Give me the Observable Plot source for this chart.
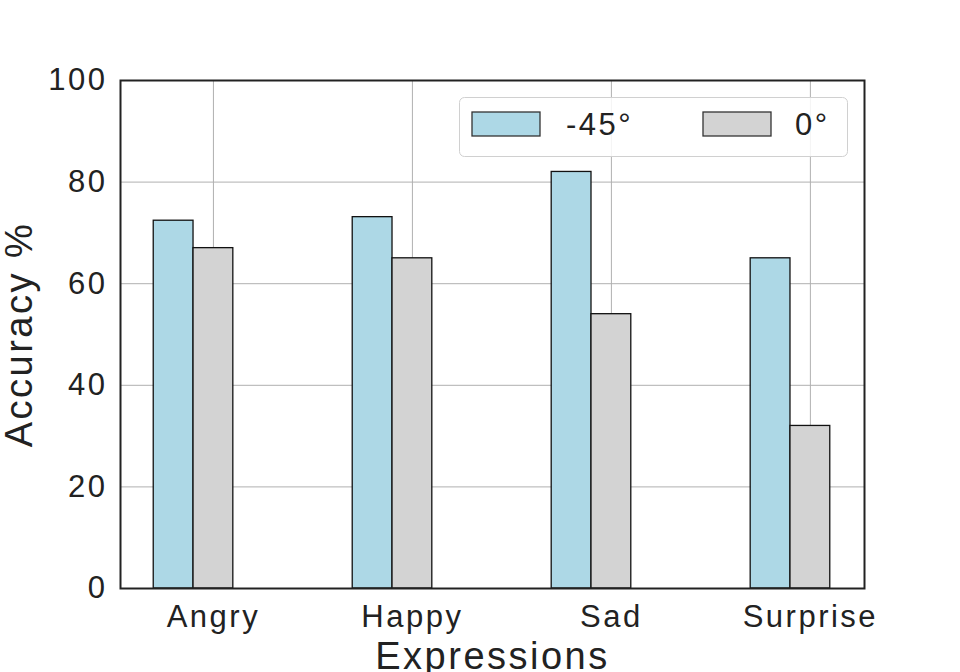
<!DOCTYPE html>
<html>
<head>
<meta charset="utf-8">
<script src="https://cdn.jsdelivr.net/npm/d3@7"></script>
<script src="https://cdn.jsdelivr.net/npm/@observablehq/plot@0.6"></script>
<style>
  html, body { margin: 0; padding: 0; background: #fff; }
  #chart svg { font-family: "Liberation Sans", Arial, sans-serif; letter-spacing: 2.5px; }
</style>
</head>
<body>
<div id="chart"></div>
<script>
const categories = ["Angry", "Happy", "Sad", "Surprise"];
const series = ["-45°", "0°"];
const values45 = [72.4, 73.1, 82, 65];
const values0 = [67, 65, 54, 32];
const yTicks = [0, 20, 40, 60, 80, 100];
const colors = ["#add8e6", "#d3d3d3"];

const barWidth = 0.2;
const data = [];
categories.forEach((c, i) => {
  data.push({category: c, series: series[0], value: values45[i], x1: i - barWidth, x2: i});
  data.push({category: c, series: series[1], value: values0[i], x1: i, x2: i + barWidth});
});
const xTicks = categories.map((c, i) => i + barWidth / 2);

const plot = Plot.plot({
  width: 960,
  height: 672,
  marginTop: 80,
  marginBottom: 84,
  marginLeft: 120,
  marginRight: 96,
  style: {fontSize: "31px", fontFamily: "Liberation Sans, Arial, sans-serif", color: "#222", background: "#fff"},
  x: {domain: [-0.367, 3.372], label: null},
  y: {domain: [0, 100], label: null},
  color: {domain: series, range: colors},
  marks: [
    Plot.gridY([20, 40, 60, 80], {stroke: "#b0b0b0", strokeOpacity: 1, strokeWidth: 1}),
    Plot.gridX(xTicks, {stroke: "#b0b0b0", strokeOpacity: 1, strokeWidth: 1}),
    Plot.rectY(data, {x1: "x1", x2: "x2", y1: 0, y2: "value", fill: "series", stroke: "#111", strokeWidth: 1.3}),
    Plot.axisY({ticks: yTicks, tickSize: 0, tickPadding: 13, fontSize: 31, fill: "#222", label: null}),
    Plot.axisX({ticks: xTicks, tickSize: 0, tickPadding: 16, fontSize: 31, fill: "#222", label: null,
      tickFormat: v => categories[Math.round(v - barWidth / 2)]}),
    Plot.frame({stroke: "#222", strokeWidth: 2}),
    Plot.text(["Accuracy %"], {frameAnchor: "left", dx: -101, rotate: -90, textAnchor: "middle", text: d => d, fontSize: 38, fill: "#222"}),
    Plot.text(["Expressions"], {frameAnchor: "bottom", dy: 80, textAnchor: "middle", text: d => d, fontSize: 38, fill: "#222"})
  ]
});

document.getElementById("chart").appendChild(plot);

// Legend inside the plot area (upper right)
const svg = d3.select(plot);
const lg = svg.append("g").attr("class", "legend");
lg.append("rect")
  .attr("x", 459.5).attr("y", 97.5).attr("width", 388).attr("height", 59)
  .attr("rx", 5).attr("fill", "#fff").attr("fill-opacity", 0.85)
  .attr("stroke", "#d0d0d0").attr("stroke-width", 1);
const items = [
  {label: series[0], color: colors[0], sx: 472, tx: 566},
  {label: series[1], color: colors[1], sx: 703, tx: 795}
];
items.forEach(it => {
  lg.append("rect").attr("x", it.sx).attr("y", 112).attr("width", 68).attr("height", 24)
    .attr("fill", it.color).attr("stroke", "#333").attr("stroke-width", 1.3);
  lg.append("text").attr("x", it.tx).attr("y", 135).text(it.label)
    .attr("text-anchor", "start")
    .attr("font-size", 31).attr("fill", "#222");
});
</script>
</body>
</html>
